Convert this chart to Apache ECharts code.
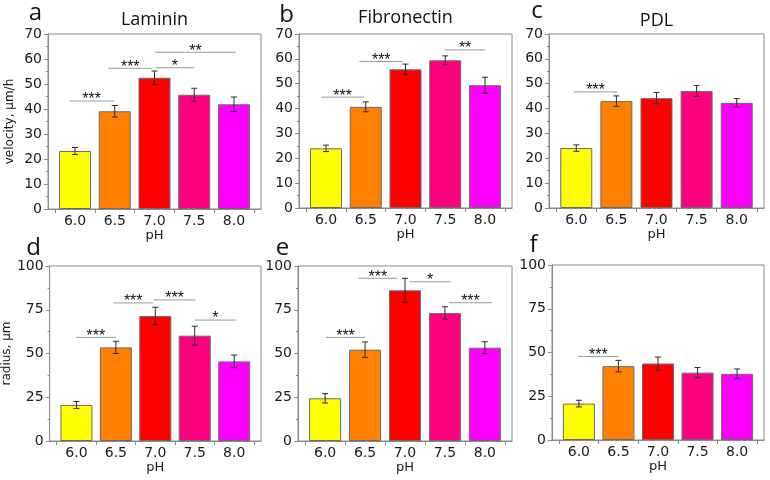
<!DOCTYPE html>
<html><head><meta charset="utf-8">
<script src="https://cdn.jsdelivr.net/npm/echarts@6/dist/echarts.min.js"></script>
<style>html,body{margin:0;padding:0;background:#fff}#c{width:770px;height:480px}</style>
</head><body><div id="c"></div>
<script>
// ---- data ----
const phValues = [6.0, 6.5, 7.0, 7.5, 8.0];
const xTickLabels = ['6.0', '6.5', '7.0', '7.5', '8.0'];
const velocityTicks = [0, 10, 20, 30, 40, 50, 60, 70];
const radiusTicks = [0, 25, 50, 75, 100];
const barColors = ['#FFFF00', '#FF8000', '#FF0000', '#FF0080', '#FF00FF'];
const panelTitles = ['Laminin', 'Fibronectin', 'PDL'];
const panelLetters = ['a', 'b', 'c', 'd', 'e', 'f'];

const velLaminin = [23.2, 39.1, 52.5, 45.7, 41.9];
const velLamininErr = [1.4, 2.3, 2.7, 2.6, 2.9];
const velFibronectin = [24.0, 40.7, 55.8, 59.4, 49.4];
const velFibronectinErr = [1.3, 2.0, 2.1, 1.8, 3.2];
const velPDL = [24.1, 43.0, 44.2, 47.1, 42.3];
const velPDLErr = [1.3, 2.1, 2.3, 2.2, 1.7];
const radLaminin = [20.6, 53.5, 71.4, 60.2, 45.5];
const radLamininErr = [2.0, 3.5, 5.0, 5.4, 3.6];
const radFibronectin = [24.4, 52.2, 86.1, 73.1, 53.3];
const radFibronectinErr = [2.7, 4.4, 6.9, 3.6, 3.4];
const radPDL = [20.8, 42.2, 43.7, 38.5, 37.8];
const radPDLErr = [1.9, 3.3, 3.7, 2.9, 2.8];

// significance brackets: [from pH, to pH, height, label]
const sigVelLaminin = [[5.93, 6.49, 43.2, '***'], [6.42, 6.97, 56.3, '***'], [7.01, 7.50, 56.5, '*'], [7.01, 8.02, 62.7, '**']];
const sigVelFibronectin = [[5.94, 6.48, 44.6, '***'], [6.42, 6.97, 58.9, '***'], [7.50, 8.00, 63.6, '**']];
const sigVelPDL = [[5.97, 6.51, 46.7, '***']];
const sigRadLaminin = [[5.99, 6.50, 59.2, '***'], [6.47, 6.97, 78.9, '***'], [6.98, 7.51, 80.6, '***'], [7.50, 8.02, 69.1, '*']];
const sigRadFibronectin = [[6.01, 6.50, 59.2, '***'], [6.42, 6.90, 93.0, '***'], [7.06, 7.57, 91.0, '*'], [7.55, 8.09, 79.0, '***']];
const sigRadPDL = [[5.99, 6.50, 47.7, '***']];

// ---- layout / styling ----
const panels = [
  {vals: velLaminin, errs: velLamininErr, sig: sigVelLaminin, ticks: velocityTicks, name: 'velocity, μm/h',
   grid: {left: 48, top: 34, width: 213, height: 175}, title: [154.5, 19.5], letter: [35.5, 12.8]},
  {vals: velFibronectin, errs: velFibronectinErr, sig: sigVelFibronectin, ticks: velocityTicks, name: '',
   grid: {left: 299, top: 34, width: 213, height: 174}, title: [405.5, 18], letter: [286.7, 15]},
  {vals: velPDL, errs: velPDLErr, sig: sigVelPDL, ticks: velocityTicks, name: '',
   grid: {left: 549, top: 34, width: 215, height: 174}, title: [656.5, 21], letter: [537, 11]},
  {vals: radLaminin, errs: radLamininErr, sig: sigRadLaminin, ticks: radiusTicks, name: 'radius, μm',
   grid: {left: 48, top: 266, width: 213, height: 175}, letter: [33.5, 248]},
  {vals: radFibronectin, errs: radFibronectinErr, sig: sigRadFibronectin, ticks: radiusTicks, name: '',
   grid: {left: 298, top: 266, width: 214, height: 175}, letter: [282.5, 248]},
  {vals: radPDL, errs: radPDLErr, sig: sigRadPDL, ticks: radiusTicks, name: '',
   grid: {left: 552, top: 265, width: 212, height: 175}, letter: [533.5, 245]}
];

const AX = '#8a8a8a';
const FONT = 'DejaVu Sans';
const grids = [], xAxes = [], yAxes = [], series = [], graphics = [];

panels.forEach((p, i) => {
  grids.push(Object.assign({show: true, borderColor: AX, borderWidth: 1, backgroundColor: 'transparent'}, p.grid));
  xAxes.push({
    type: 'value', gridIndex: i, min: 5.66, max: 8.34,
    name: 'pH', nameLocation: 'middle', nameGap: i < 3 ? 18 : 16,
    nameTextStyle: {fontFamily: FONT, fontSize: 13, color: '#1a1a1a'},
    axisLine: {show: true, lineStyle: {color: AX}},
    axisTick: {show: true, length: 4, customValues: [5.75, 6.25, 6.75, 7.25, 7.75, 8.25], lineStyle: {color: AX}},
    axisLabel: {customValues: phValues, margin: 5, fontFamily: FONT, fontSize: 14, color: '#1a1a1a',
      formatter: v => xTickLabels[phValues.findIndex(t => Math.abs(t - v) < 1e-6)]},
    splitLine: {show: false}
  });
  const t = p.ticks;
  yAxes.push({
    type: 'value', gridIndex: i, min: t[0], max: t[t.length - 1], interval: t[1] - t[0],
    name: p.name, nameLocation: 'middle', nameGap: 32,
    nameTextStyle: {fontFamily: FONT, fontSize: 12, color: '#1a1a1a'},
    axisLine: {show: true, lineStyle: {color: AX}},
    axisTick: {show: true, length: 4, lineStyle: {color: AX}},
    minorTick: {show: true, splitNumber: 2, length: 2, lineStyle: {color: AX}},
    axisLabel: {margin: 6, fontFamily: FONT, fontSize: 14, color: '#1a1a1a'},
    splitLine: {show: false}
  });
  series.push({
    type: 'bar', xAxisIndex: i, yAxisIndex: i, barWidth: 32,
    data: p.vals.map((v, j) => ({value: [phValues[j], v], itemStyle: {color: barColors[j]}})),
    itemStyle: {borderColor: '#6b6b6b', borderWidth: 1}
  });
  series.push({
    type: 'custom', xAxisIndex: i, yAxisIndex: i, z: 5,
    data: p.vals.map((v, j) => [phValues[j], v, p.errs[j]]),
    encode: {x: 0, y: 1},
    renderItem: (params, api) => {
      const x = api.value(0), y = api.value(1), e = api.value(2);
      const top = api.coord([x, y + e]), bot = api.coord([x, y - e]);
      const st = {stroke: '#2a2a2a', lineWidth: 1};
      return {type: 'group', children: [
        {type: 'line', shape: {x1: top[0], y1: top[1], x2: bot[0], y2: bot[1]}, style: st},
        {type: 'line', shape: {x1: top[0] - 3, y1: top[1], x2: top[0] + 3, y2: top[1]}, style: st},
        {type: 'line', shape: {x1: bot[0] - 3, y1: bot[1], x2: bot[0] + 3, y2: bot[1]}, style: st}
      ]};
    }
  });
  const sig = p.sig;
  series.push({
    type: 'custom', xAxisIndex: i, yAxisIndex: i, z: 6,
    data: sig.map(s => [s[0], s[1], s[2]]),
    encode: {x: [0, 1], y: 2},
    renderItem: (params, api) => {
      const a = api.coord([api.value(0), api.value(2)]);
      const b = api.coord([api.value(1), api.value(2)]);
      return {type: 'group', children: [
        {type: 'line', shape: {x1: a[0], y1: a[1], x2: b[0], y2: a[1]}, style: {stroke: '#9a9a9a', lineWidth: 1}},
        {type: 'text', x: (a[0] + b[0]) / 2, y: a[1] - 1,
         style: {text: sig[params.dataIndex][3], fill: '#111', font: '16px "Liberation Sans"', align: 'center', verticalAlign: 'middle'}}
      ]};
    }
  });
  if (p.title) {
    graphics.push({type: 'text', x: p.title[0], y: p.title[1],
      style: {text: panelTitles[i], fill: '#111', font: '18px "Open Sans"', align: 'center', verticalAlign: 'middle'}});
  }
  graphics.push({type: 'text', x: p.letter[0], y: p.letter[1],
    style: {text: panelLetters[i], fill: '#111', font: '24px "Open Sans"', align: 'center', verticalAlign: 'middle'}});
});

const chart = echarts.init(document.getElementById('c'), null, {renderer: 'canvas'});
chart.setOption({
  animation: false,
  backgroundColor: '#fff',
  grid: grids, xAxis: xAxes, yAxis: yAxes, series: series, graphic: graphics
});
</script></body></html>
